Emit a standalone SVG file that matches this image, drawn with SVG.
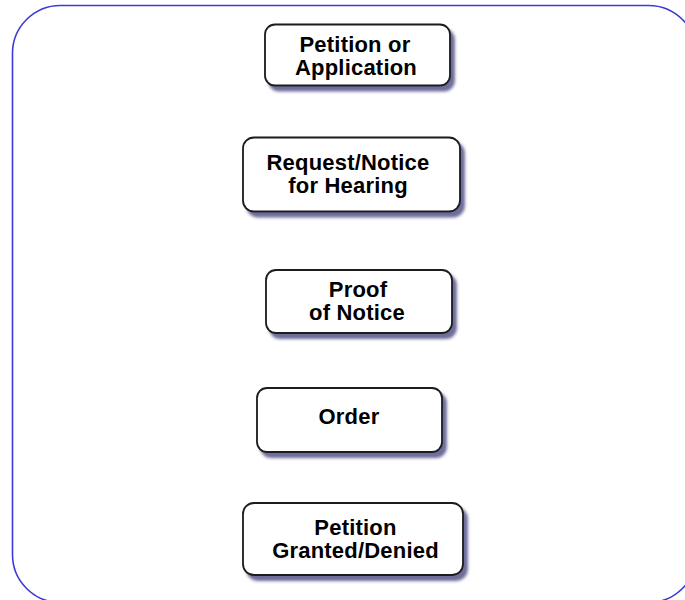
<svg xmlns="http://www.w3.org/2000/svg" width="685" height="600" viewBox="0 0 685 600">
  <style>
    .frame { fill: #ffffff; stroke: #3b3bd6; stroke-width: 1.6; }
    .box { fill: #ffffff; stroke: #1a1a1a; stroke-width: 1.8; filter: url(#shadow); }
    .label { font-family: "Liberation Sans", Arial, Helvetica, sans-serif; font-weight: bold; font-size: 22px; letter-spacing: 0.2px; fill: #000000; text-anchor: middle; }
  </style>
  <defs>
    <filter id="shadow" x="-10%" y="-20%" width="125%" height="150%">
      <feGaussianBlur in="SourceAlpha" stdDeviation="1.6" result="blur"/>
      <feOffset in="blur" dx="4" dy="5" result="off"/>
      <feFlood flood-color="#3c3c78" flood-opacity="0.75"/>
      <feComposite in2="off" operator="in" result="sh"/>
      <feMerge>
        <feMergeNode in="sh"/>
        <feMergeNode in="SourceGraphic"/>
      </feMerge>
    </filter>
  </defs>

  <rect width="685" height="600" fill="#ffffff"/>
  <!-- outer rounded panel, running past the right and bottom edges -->
  <rect class="frame" x="12.5" y="5.5" width="684" height="597" rx="48" ry="48"/>

  <g id="connectors"/>

  <g id="node-petition">
    <rect class="box" x="265" y="24.5" width="185" height="61" rx="10" ry="10"/>
    <text class="label" x="355" y="52">Petition or</text>
    <text class="label" x="356" y="75">Application</text>
  </g>

  <g id="node-request">
    <rect class="box" x="243" y="137.5" width="217" height="74" rx="11" ry="11"/>
    <text class="label" x="348" y="170">Request/Notice</text>
    <text class="label" x="348" y="193">for Hearing</text>
  </g>

  <g id="node-proof">
    <rect class="box" x="266" y="270" width="186" height="63" rx="10" ry="10"/>
    <text class="label" x="358" y="297">Proof</text>
    <text class="label" x="357" y="320">of Notice</text>
  </g>

  <g id="node-order">
    <rect class="box" x="257" y="388" width="185" height="64" rx="10" ry="10"/>
    <text class="label" x="349" y="424">Order</text>
  </g>

  <g id="node-granted">
    <rect class="box" x="243" y="503" width="220" height="72" rx="11" ry="11"/>
    <text class="label" x="355.5" y="535">Petition</text>
    <text class="label" x="355.5" y="558">Granted/Denied</text>
  </g>
</svg>
